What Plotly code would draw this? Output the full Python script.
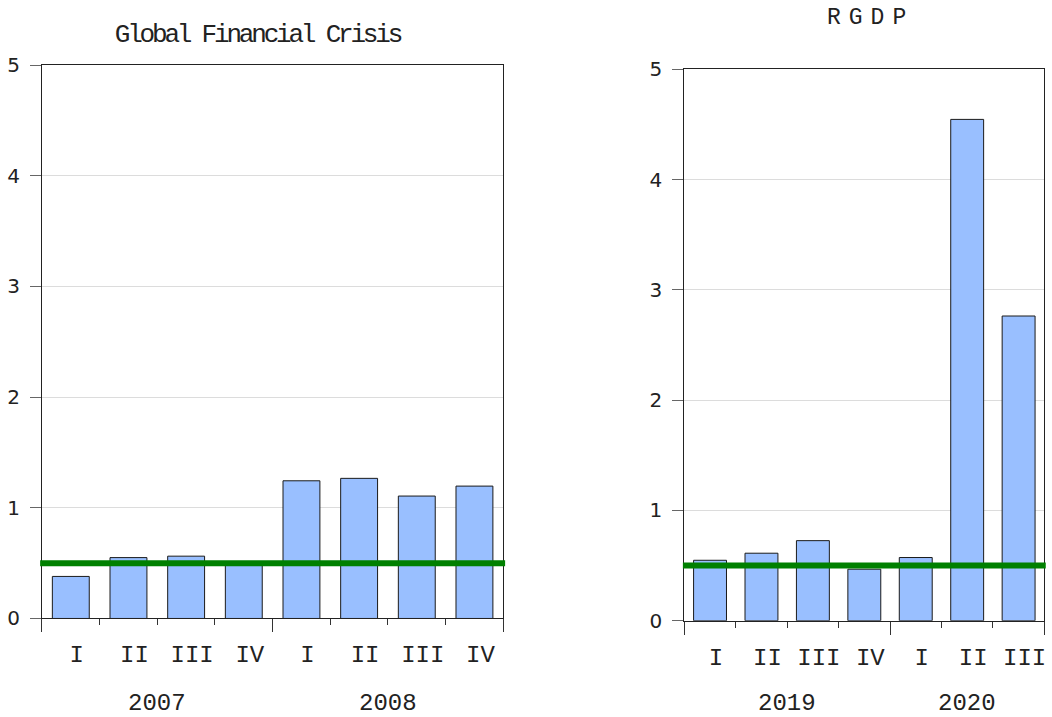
import plotly.graph_objects as go

# ---------------- data ----------------
gfc_years = ["2007", "2008"]
gfc_quarters = [["I", "II", "III", "IV"], ["I", "II", "III", "IV"]]
gfc_values = [0.38, 0.55, 0.563, 0.50, 1.244, 1.266, 1.106, 1.196]

rgdp_years = ["2019", "2020"]
rgdp_quarters = [["I", "II", "III", "IV"], ["I", "II", "III"]]
rgdp_values = [0.548, 0.612, 0.726, 0.467, 0.573, 4.546, 2.763]

threshold = [0.5]
titles = ["Global Financial Crisis", "RGDP"]

BAR_COLOR = "rgb(153,191,255)"
GREEN = "#008000"
MONO = "Liberation Mono, Courier New, monospace"
SANS = "DejaVu Sans, sans-serif"


def build(years, quarters):
    cats, ticks, centers, bounds = [], [], [], [-0.5]
    i = 0
    for y, qs in zip(years, quarters):
        start = i
        for q in qs:
            cats.append(f"{y} {q}")
            ticks.append(q)
            i += 1
        centers.append((start + i - 1) / 2)
        bounds.append(i - 0.5)
    return cats, ticks, centers, bounds


fig = go.Figure()

panels = [
    dict(years=gfc_years, quarters=gfc_quarters, values=gfc_values,
         xa="x", ya="y", xdom=[0.0399, 0.4784], ydom=[0.1374, 0.9093], ovx="x3"),
    dict(years=rgdp_years, quarters=rgdp_quarters, values=rgdp_values,
         xa="x2", ya="y2", xdom=[0.6505, 0.9927], ydom=[0.1343, 0.9033], ovx="x4"),
]

annotations = []
for p in panels:
    cats, ticks, centers, bounds = build(p["years"], p["quarters"])
    fig.add_trace(go.Bar(
        x=cats, y=p["values"], xaxis=p["xa"], yaxis=p["ya"],
        marker=dict(color=BAR_COLOR, line=dict(color="#1a1a1a", width=1)),
        showlegend=False,
    ))
    # invisible trace for overlay axis carrying year-boundary ticks
    fig.add_trace(go.Scatter(x=[bounds[0], bounds[-1]], y=[0, 0], xaxis=p["ovx"], yaxis=p["ya"],
                             mode="markers", marker=dict(opacity=0), showlegend=False,
                             hoverinfo="skip"))
    xname = "xaxis" if p["xa"] == "x" else "xaxis2"
    yname = "yaxis" if p["ya"] == "y" else "yaxis2"
    ovname = "xaxis3" if p["ovx"] == "x3" else "xaxis4"
    fig.layout[xname] = dict(
        domain=p["xdom"], anchor=p["ya"], type="category",
        tickmode="array", tickvals=cats, ticktext=ticks, tickangle=0,
        ticks="outside", tickson="boundaries", ticklen=6, tickcolor="#333",
        showline=True, linecolor="#222", linewidth=1, mirror=True,
        showgrid=False, tickfont=dict(family=MONO, size=24, color="#222"),
        ticklabelstandoff=14, ticklabelshift=6, automargin=False,
        range=[-0.5, len(cats) - 0.5],
    )
    fig.layout[ovname] = dict(
        overlaying=p["xa"], anchor=p["ya"], domain=p["xdom"],
        range=[-0.5, len(cats) - 0.5], tickmode="array", tickvals=bounds,
        ticks="outside", ticklen=13, tickcolor="#333", showticklabels=False,
        showgrid=False, zeroline=False, showline=False, automargin=False,
    )
    fig.layout[yname] = dict(
        domain=p["ydom"], anchor=p["xa"], range=[0, 5], dtick=1,
        ticks="outside", ticklen=11, tickcolor="#666",
        showline=True, linecolor="#222", linewidth=1, mirror=True,
        showgrid=True, gridcolor="#dcdcdc", gridwidth=1, zeroline=False,
        tickfont=dict(family=SANS, size=20, color="#222"), ticklabelstandoff=6,
        automargin=False,
    )
    fig.add_shape(type="line", xref=f"{p['xa']} domain", yref=p["ya"],
                  x0=-0.004, x1=1.004, y0=threshold[0], y1=threshold[0],
                  line=dict(color=GREEN, width=6), layer="above")
    for yr, c in zip(p["years"], centers):
        annotations.append(dict(
            text=yr, xref=p["xa"], x=c, yref="paper", y=0.0195,
            xanchor="center", yanchor="middle",
            showarrow=False, font=dict(family=MONO, size=24, color="#222"),
        ))

annotations.append(dict(
    text=titles[0],
    xref="paper", yref="paper", x=0.2448, y=1 - 35 / 717,
    xanchor="center", yanchor="middle",
    showarrow=False, font=dict(family=MONO, size=26, color="#222"),
))
annotations.append(dict(
    text=titles[1],
    xref="paper", yref="paper", x=0.8275, y=1 - 18.3 / 717,
    xanchor="center", yanchor="middle",
    showarrow=False, font=dict(family=MONO, size=23, color="#222"),
))

fig.update_layout(
    width=1052, height=717, margin=dict(l=0, r=0, t=0, b=0),
    paper_bgcolor="white", plot_bgcolor="white",
    annotations=annotations, bargap=0.36, showlegend=False,
)

post = """
document.body.style.margin='0px';
document.body.style.overflow='hidden';
var gd = document.getElementById('{plot_id}');
function fixSpacing(){
  var sp = {"Global Financial Crisis": "-3.2px", "RGDP": "8px"};
  document.querySelectorAll('text.annotation-text').forEach(function(t){
    if (sp[t.textContent] !== undefined) { t.style.letterSpacing = sp[t.textContent]; }
  });
}
fixSpacing();
if (gd && gd.on) { gd.on('plotly_afterplot', fixSpacing); }
setTimeout(fixSpacing, 50);
"""

fig.write_html("out.html", config={"displayModeBar": False}, post_script=post)
